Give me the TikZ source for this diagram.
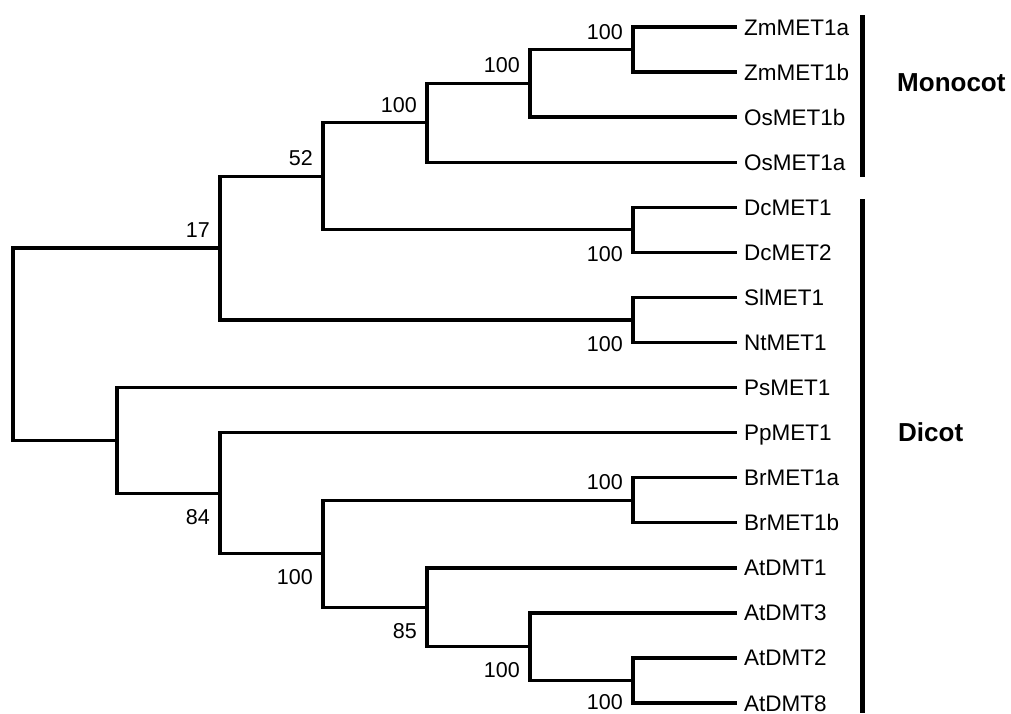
\documentclass[tikz,border=0pt]{standalone}
\usepackage{fontspec}
\setmainfont{Liberation Sans}
\begin{document}
\begin{tikzpicture}[x=1pt,y=-1pt,
  branch/.style={line width=3.3pt,line join=miter,line cap=rect},
  bar/.style={line width=5pt},
  leaflabel/.style={anchor=base west,inner sep=0pt,font=\fontsize{22.5}{24}\selectfont},
  supup/.style={anchor=south east,inner sep=0pt,font=\fontsize{21.5}{23}\selectfont},
  supdown/.style={anchor=north east,inner sep=0pt,font=\fontsize{21.5}{23}\selectfont},
  grouplabel/.style={anchor=base west,inner sep=0pt,font=\fontsize{26}{28}\selectfont\bfseries}]
\useasboundingbox (0,0) rectangle (1011,713);

% leaf tips and their names
\foreach \i/\name in {0/ZmMET1a,1/ZmMET1b,2/OsMET1b,3/OsMET1a,4/DcMET1,5/DcMET2,
  6/SlMET1,7/NtMET1,8/PsMET1,9/PpMET1,10/BrMET1a,11/BrMET1b,12/AtDMT1,
  13/AtDMT3,14/AtDMT2,15/AtDMT8}{
  \coordinate (L\i) at (735,{27+45.07*\i});
  \node[leaflabel] (t\i) at (744,{27+45.07*\i+8}) {\name};
}

% internal nodes
\coordinate (nZm)   at (633,49.54);
\coordinate (nOsB)  at (530,83.34);
\coordinate (nOsA)  at (427,122.78);
\coordinate (nDc)   at (633,229.82);
\coordinate (n52)   at (323,176.3);
\coordinate (nSl)   at (633,319.96);
\coordinate (n17)   at (220,248.13);
\coordinate (nBr)   at (633,500.24);
\coordinate (nAt28) at (633,680.52);
\coordinate (nAt3)  at (530,646.72);
\coordinate (n85)   at (427,607.28);
\coordinate (nBrAt) at (323,553.76);
\coordinate (n84)   at (220,493.2);
\coordinate (nPs)   at (117,440.38);
\coordinate (root)  at (13,344.26);

% branches
\draw[branch] (nZm) |- (L0);   \draw[branch] (nZm) |- (L1);
\draw[branch] (nOsB) |- (nZm); \draw[branch] (nOsB) |- (L2);
\draw[branch] (nOsA) |- (nOsB); \draw[branch] (nOsA) |- (L3);
\draw[branch] (nDc) |- (L4);   \draw[branch] (nDc) |- (L5);
\draw[branch] (n52) |- (nOsA); \draw[branch] (n52) |- (nDc);
\draw[branch] (nSl) |- (L6);   \draw[branch] (nSl) |- (L7);
\draw[branch] (n17) |- (n52);  \draw[branch] (n17) |- (nSl);
\draw[branch] (nBr) |- (L10);  \draw[branch] (nBr) |- (L11);
\draw[branch] (nAt28) |- (L14); \draw[branch] (nAt28) |- (L15);
\draw[branch] (nAt3) |- (L13); \draw[branch] (nAt3) |- (nAt28);
\draw[branch] (n85) |- (L12);  \draw[branch] (n85) |- (nAt3);
\draw[branch] (nBrAt) |- (nBr); \draw[branch] (nBrAt) |- (n85);
\draw[branch] (n84) |- (L9);   \draw[branch] (n84) |- (nBrAt);
\draw[branch] (nPs) |- (L8);   \draw[branch] (nPs) |- (n84);
\draw[branch] (root) |- (n17); \draw[branch] (root) |- (nPs);

% bootstrap support values
\node[supup] (sZm)   at ([shift={(-10,-10)}]nZm)  {100};
\node[supup] (sOsB)  at ([shift={(-10,-10)}]nOsB) {100};
\node[supup] (sOsA)  at ([shift={(-10,-10)}]nOsA) {100};
\node[supup] (s52)   at ([shift={(-10,-10)}]n52)  {52};
\node[supup] (s17)   at ([shift={(-10,-10)}]n17)  {17};
\node[supup] (sBr)   at ([shift={(-10,-10)}]nBr)  {100};
\node[supdown] (sDc)   at ([shift={(-10,16)}]nDc)   {100};
\node[supdown] (sSl)   at ([shift={(-10,16)}]nSl)   {100};
\node[supdown] (s84)   at ([shift={(-10,16)}]n84)   {84};
\node[supdown] (sBrAt) at ([shift={(-10,16)}]nBrAt) {100};
\node[supdown] (s85)   at ([shift={(-10,16)}]n85)   {85};
\node[supdown] (sAt3)  at ([shift={(-10,16)}]nAt3)  {100};
\node[supdown] (sAt28) at ([shift={(-10,14)}]nAt28) {100};

% group bars and labels
\coordinate (monoTop) at (862,15);
\coordinate (monoBot) at (862,177);
\coordinate (diTop) at (862,199);
\coordinate (diBot) at (862,713);
\draw[bar] (monoTop) -- (monoBot);
\draw[bar] (diTop) -- (diBot);
\node[grouplabel] (gMono) at (897,91.3) {Monocot};
\node[grouplabel] (gDi) at (898,441.3) {Dicot};
\end{tikzpicture}
\end{document}
